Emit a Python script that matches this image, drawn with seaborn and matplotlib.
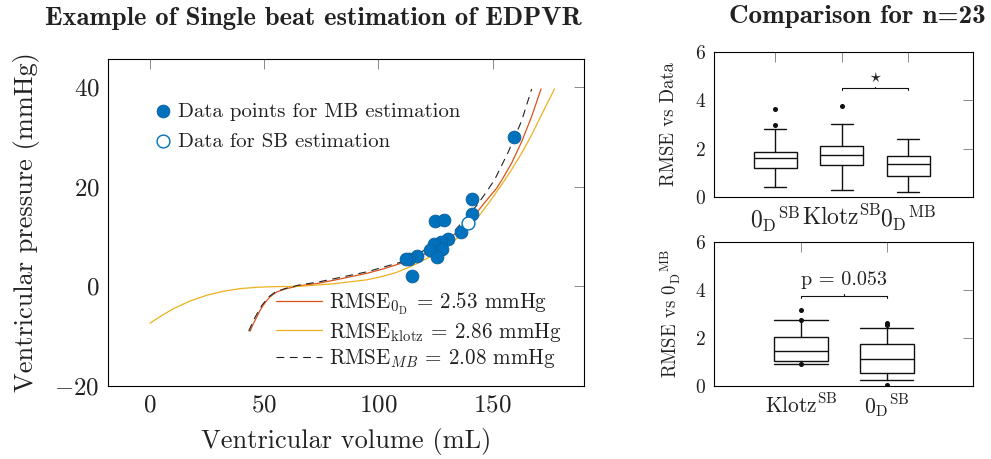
import matplotlib
matplotlib.use("Agg")
import matplotlib.pyplot as plt
import seaborn as sns
import pandas as pd

# ---------------- data ----------------
mb_volume = [159.4, 141.1, 141.1, 124.8, 128.6, 136.3, 130.6, 127.3, 124.5,
             122.6, 128.0, 125.5, 116.8, 113.5, 112.1, 114.6]
mb_pressure = [29.9, 17.5, 14.6, 13.2, 13.3, 10.9, 9.5, 8.9, 8.4,
               7.2, 7.4, 5.8, 6.0, 5.4, 5.4, 2.1]
sb_volume = [139.4]
sb_pressure = [12.6]

v_0d = [43.8, 45.2, 46.7, 48.1, 49.6, 51.0, 52.5, 54.0, 55.5, 57.7, 59.9, 62.8,
        65.7, 73.0, 80.3, 87.6, 94.9, 102.2, 109.5, 120.0, 130.0, 140.0, 146.0,
        151.8, 154.0, 158.3, 162.7, 167.1, 171.2]
p_0d = [-9.0, -7.5, -6.2, -4.9, -3.8, -2.9, -2.15, -1.6, -1.15, -0.75, -0.45, -0.15,
        0.15, 0.55, 1.2, 1.9, 2.6, 3.5, 4.56, 6.4, 9.2, 13.0, 16.5,
        19.7, 21.3, 24.7, 29.0, 34.1, 39.6]

v_klotz = [0.0, 5.0, 10.2, 17.5, 24.8, 32.1, 39.4, 46.7, 54.0, 65.7, 80.3, 94.9,
           101.0, 108.0, 115.3, 122.6, 128.4, 134.3, 140.1, 144.5, 148.9, 151.8,
           154.0, 158.3, 162.7, 167.1, 171.5, 177.1]
p_klotz = [-7.4, -5.9, -4.5, -2.95, -1.8, -1.0, -0.47, -0.2, -0.07, 0.0, 0.5, 1.3,
           1.9, 2.8, 4.2, 5.9, 7.6, 9.6, 11.9, 14.4, 17.1, 19.0,
           20.4, 23.4, 26.7, 30.4, 34.5, 39.6]

v_mb = [43.2, 46.0, 49.0, 52.0, 55.0, 59.5, 65.7, 73.0, 80.3, 94.9, 109.5, 120.0,
        133.5, 143.0, 147.4, 151.0, 156.9, 162.7, 167.1]
p_mb = [-9.0, -6.2, -3.8, -2.1, -1.1, -0.4, 0.3, 0.8, 1.5, 2.9, 4.8, 7.2,
        11.2, 16.2, 19.0, 21.5, 27.0, 33.2, 39.6]

line_labels = [r"RMSE$_{0_\mathrm{D}}$ = 2.53 mmHg",
               r"RMSE$_\mathrm{klotz}$ = 2.86 mmHg",
               r"RMSE$_{MB}$ = 2.08 mmHg"]
point_labels = ["Data points for MB estimation", "Data for SB estimation"]

# box summaries, comparison vs data
top_labels = [r"${0_\mathrm{D}}^\mathrm{SB}$", r"Klotz$^\mathrm{SB}$", r"${0_\mathrm{D}}^\mathrm{MB}$"]
top_whislo = [0.40, 0.28, 0.19]
top_q1 = [1.19, 1.31, 0.855]
top_med = [1.61, 1.75, 1.35]
top_q3 = [1.88, 2.12, 1.70]
top_whishi = [2.80, 3.02, 2.39]
top_fliers = [[2.98, 3.64], [3.77], []]

# box summaries, comparison vs 0D MB
bot_labels = [r"Klotz$^\mathrm{SB}$", r"${0_\mathrm{D}}^\mathrm{SB}$"]
bot_whislo = [0.905, 0.265]
bot_q1 = [1.06, 0.557]
bot_med = [1.46, 1.11]
bot_q3 = [2.06, 1.73]
bot_whishi = [2.74, 2.40]
bot_fliers = [[0.905, 2.76, 3.18], [0.04, 2.55, 2.62]]

# ---------------- style ----------------
sns.set_theme(style="white")
plt.rcParams.update({
    "font.family": ["cmr10"],
    "mathtext.fontset": "cm",
    "axes.formatter.use_mathtext": True,
    "axes.unicode_minus": True,
    "axes.edgecolor": "black",
    "axes.linewidth": 0.8,
    "text.color": "#222222",
    "axes.labelcolor": "#222222",
    "xtick.color": "#222222",
    "ytick.color": "#222222",
})

BLUE = "#0072BD"
RED = "#D95319"
YELLOW = "#EDB120"
W, H = 991, 459

fig = plt.figure(figsize=(W / 100, H / 100), dpi=100)


def axes_px(left, top, right, bottom):
    return fig.add_axes([left / W, (H - bottom) / H, (right - left) / W, (bottom - top) / H])


def style_ticks(a, size):
    a.tick_params(axis="both", which="both", direction="in", top=True, right=True,
                  length=7, width=0.6, color="#777777", labelsize=size, pad=6)
    for s in a.spines.values():
        s.set_color("black")
        s.set_linewidth(0.8)


# ---------------- main panel ----------------
ax = axes_px(108, 59, 584, 386)

sns.lineplot(x=v_0d, y=p_0d, ax=ax, color=RED, lw=0.9, sort=False, legend=False)
h_red = ax.lines[-1]
sns.lineplot(x=v_klotz, y=p_klotz, ax=ax, color=YELLOW, lw=0.9, sort=False, legend=False)
h_yel = ax.lines[-1]
sns.lineplot(x=v_mb, y=p_mb, ax=ax, color="#222222", lw=0.8, sort=False, legend=False,
             dashes=(7, 5))
h_mb = ax.lines[-1]

sns.scatterplot(x=mb_volume, y=mb_pressure, ax=ax, s=85, color=BLUE,
                edgecolor="#0a5f9e", linewidth=0.6, legend=False, zorder=5)
h_mbpts = ax.collections[-1]
sns.scatterplot(x=sb_volume, y=sb_pressure, ax=ax, s=85, facecolor="white",
                edgecolor=BLUE, linewidth=1.0, legend=False, zorder=6)
h_sbpts = ax.collections[-1]

ax.set_xlim(-18.4, 190)
ax.set_ylim(-20, 45.6)
ax.set_xticks([0, 50, 100, 150])
ax.set_yticks([-20, 0, 20, 40])
style_ticks(ax, 18)
ax.set_xlabel("Ventricular volume (mL)", fontsize=19, labelpad=8)
ax.set_ylabel("Ventricular pressure (mmHg)", fontsize=19, labelpad=10)

leg1 = ax.legend([h_mbpts, h_sbpts], point_labels, loc="upper left",
                 bbox_to_anchor=(0.094, 0.868), borderaxespad=0, borderpad=0,
                 frameon=False, fontsize=15, handlelength=1.0, handletextpad=0.2,
                 labelspacing=0.55, scatterpoints=1)
ax.add_artist(leg1)
ax.legend([h_red, h_yel, h_mb], line_labels, loc="upper left",
          bbox_to_anchor=(0.353, 0.291), borderaxespad=0, borderpad=0,
          frameon=False, fontsize=15.2, handlelength=2.2, handletextpad=0.3,
          labelspacing=0.17)

fig.text(313 / W, 1 - 18 / H, "Example of Single beat estimation of EDPVR",
         family="cmb10", fontsize=19.2, ha="center", va="center")
fig.text(857 / W, 1 - 17 / H, "Comparison for n=23",
         family="cmb10", fontsize=19.5, ha="center", va="center")


# ---------------- box panels ----------------
def make_stats(labels, wl, q1, med, q3, wh, fl):
    return [dict(label=l, whislo=a, q1=b, med=c, q3=d, whishi=e, fliers=f)
            for l, a, b, c, d, e, f in zip(labels, wl, q1, med, q3, wh, fl)]


box_kw = dict(patch_artist=True, showfliers=True,
              boxprops=dict(facecolor="white", edgecolor="#111111", linewidth=1.0),
              medianprops=dict(color="#111111", linewidth=1.0),
              whiskerprops=dict(color="#111111", linewidth=1.0),
              capprops=dict(color="#111111", linewidth=1.0),
              flierprops=dict(marker="o", markerfacecolor="#111111",
                              markeredgecolor="#111111", markersize=2.6))

ax2 = axes_px(714, 52, 973, 197)
top_stats = make_stats(top_labels, top_whislo, top_q1, top_med, top_q3, top_whishi, top_fliers)
ax2.bxp(top_stats, positions=[1, 2, 3], widths=0.645, capwidths=0.33, **box_kw)
ax2.set_xlim(0.08, 3.97)
ax2.set_ylim(0, 6)
ax2.set_yticks([0, 2, 4, 6])
style_ticks(ax2, 14)
ax2.tick_params(axis="x", pad=5, labelsize=17)
ax2.set_ylabel("RMSE vs Data", fontsize=13.5, labelpad=12)
# significance bracket
ax2.plot([2, 2, 3, 3], [4.43, 4.5, 4.5, 4.43], color="#111111", lw=0.8)
ax2.plot([2.5, 2.5], [4.5, 4.57], color="#111111", lw=0.8)
ax2.text(2.5, 4.97, r"$\star$", ha="center", va="center", fontsize=12)

ax3 = axes_px(714, 242, 973, 386)
bot_stats = make_stats(bot_labels, bot_whislo, bot_q1, bot_med, bot_q3, bot_whishi, bot_fliers)
ax3.bxp(bot_stats, positions=[0, 1], widths=0.63, capwidths=0.62, **box_kw)
ax3.set_xlim(-1.015, 2.007)
ax3.set_ylim(0, 6)
ax3.set_yticks([0, 2, 4, 6])
style_ticks(ax3, 14)
ax3.tick_params(axis="x", pad=5, labelsize=15.5)
ax3.set_ylabel(r"RMSE vs ${0_\mathrm{D}}^\mathrm{MB}$", fontsize=13.5, labelpad=8)
ax3.plot([0, 0, 1, 1], [3.66, 3.75, 3.75, 3.66], color="#111111", lw=0.8)
ax3.plot([0.5, 0.5], [3.75, 3.84], color="#111111", lw=0.8)
ax3.text(0.5, 4.40, "p = 0.053", ha="center", va="center", fontsize=14.5)

fig.savefig("out.png", dpi=100)
